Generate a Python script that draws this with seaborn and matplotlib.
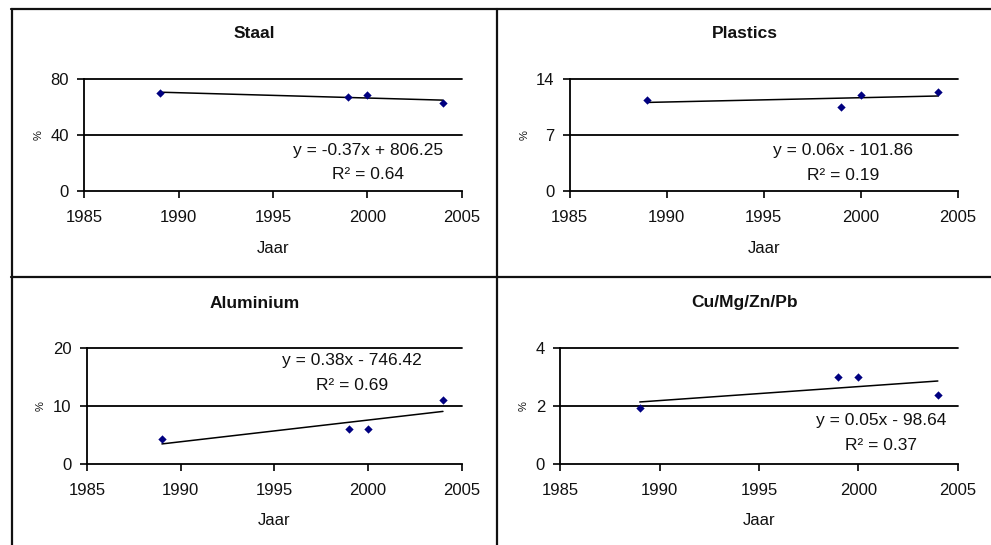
import numpy as np
import pandas as pd
import matplotlib
matplotlib.use("Agg")
import matplotlib.pyplot as plt
import seaborn as sns
from matplotlib.lines import Line2D

sns.set_style("white")
plt.rcParams["font.family"] = ["Liberation Sans", "DejaVu Sans"]

# ---- data ----
years = [1989, 1999, 2000, 2004]
staal = [69.8, 67.4, 68.6, 62.9]
plastics = [11.34, 10.5, 12.04, 12.34]
aluminium = [4.2, 6.0, 6.0, 10.9]
cumgznpb = [1.92, 2.98, 2.98, 2.37]

titles = ["Staal", "Plastics", "Aluminium", "Cu/Mg/Zn/Pb"]
series = [staal, plastics, aluminium, cumgznpb]
yticks = [[0, 40, 80], [0, 7, 14], [0, 10, 20], [0, 2, 4]]
xticks = [1985, 1990, 1995, 2000, 2005]
eq_text = ["y = -0.37x + 806.25", "y = 0.06x - 101.86",
           "y = 0.38x - 746.42", "y = 0.05x - 98.64"]
r2_text = ["R\u00b2 = 0.64", "R\u00b2 = 0.19", "R\u00b2 = 0.69", "R\u00b2 = 0.37"]

# ---- layout ----
W, H = 991, 545
fig = plt.figure(figsize=(W / 100, H / 100), dpi=100)

axes_px = [  # left, right, top, bottom in pixels
    (84.3, 461.7, 79, 191),
    (569.7, 957.7, 79, 191),
    (87.0, 461.7, 347.7, 463.7),
    (560.3, 957.7, 347.7, 463.7),
]
title_px = [(254.5, 33.5), (744.5, 33.5), (254.5, 303), (744.5, 303)]
ylabel_x = [-0.12, -0.115, -0.125, -0.093]
text_pos = [  # x frac, line1 y frac, line2 y frac
    (0.752, 0.36, 0.143),
    (0.704, 0.36, 0.14),
    (0.707, 0.888, 0.67),
    (0.807, 0.37, 0.155),
]
xlabel_y_px = [248, 248, 520.7, 520.7]

for i in range(4):
    l, r, t, b = axes_px[i]
    ax = fig.add_axes([l / W, 1 - b / H, (r - l) / W, (b - t) / H])
    df = pd.DataFrame({"Jaar": years, "pct": series[i]})
    sns.regplot(data=df, x="Jaar", y="pct", ax=ax, ci=None, scatter=False,
                line_kws=dict(color="black", lw=1.1))
    sns.scatterplot(data=df, x="Jaar", y="pct", ax=ax, marker="D", s=18,
                    color="#000080", edgecolor="#000080", linewidth=0, zorder=5)
    yt = yticks[i]
    ax.set_xlim(1985, 2005)
    ax.set_ylim(yt[0], yt[-1])
    ax.set_xticks(xticks)
    ax.set_yticks(yt)
    for v in yt[1:]:
        ax.axhline(v, color="black", lw=1.3, zorder=1, clip_on=False)
    for s in ["top", "right"]:
        ax.spines[s].set_visible(False)
    for s in ["left", "bottom"]:
        ax.spines[s].set_color("black")
        ax.spines[s].set_linewidth(1.3)
    ax.tick_params(axis="both", direction="out", length=5, width=1.2,
                   color="black", labelsize=12, labelcolor="#111111",
                   bottom=True, left=True)
    ax.tick_params(axis="x", pad=9)
    ax.tick_params(axis="y", pad=6)
    ax.set_xlabel("Jaar", fontsize=12, color="#111111")
    ax.xaxis.set_label_coords(0.5, (b - xlabel_y_px[i]) / (b - t))
    ax.xaxis.label.set_va("center")
    ax.set_ylabel("%", fontsize=8, color="#111111", rotation=90)
    ax.yaxis.set_label_coords(ylabel_x[i], 0.5)
    ax.yaxis.label.set_va("center")
    tx, ty1, ty2 = text_pos[i]
    ax.text(tx, ty1, eq_text[i], transform=ax.transAxes, ha="center",
            va="center", fontsize=12.5, color="#111111")
    ax.text(tx, ty2, r2_text[i], transform=ax.transAxes, ha="center",
            va="center", fontsize=12.5, color="#111111")
    tx_px, ty_px = title_px[i]
    fig.text(tx_px / W, 1 - ty_px / H, titles[i], ha="center", va="center",
             fontsize=12.5, fontweight="bold", color="#111111")

# panel frame lines
lw = 1.6
def fl(x0, y0, x1, y1):
    fig.add_artist(Line2D([x0 / W, x1 / W], [1 - y0 / H, 1 - y1 / H],
                          color="#111111", lw=lw, transform=fig.transFigure))
fl(11, 9, 991, 9)
fl(11.5, 9, 11.5, 545)
fl(496.8, 9, 496.8, 545)
fl(11, 276.8, 991, 276.8)

fig.savefig("out.png", dpi=100)
